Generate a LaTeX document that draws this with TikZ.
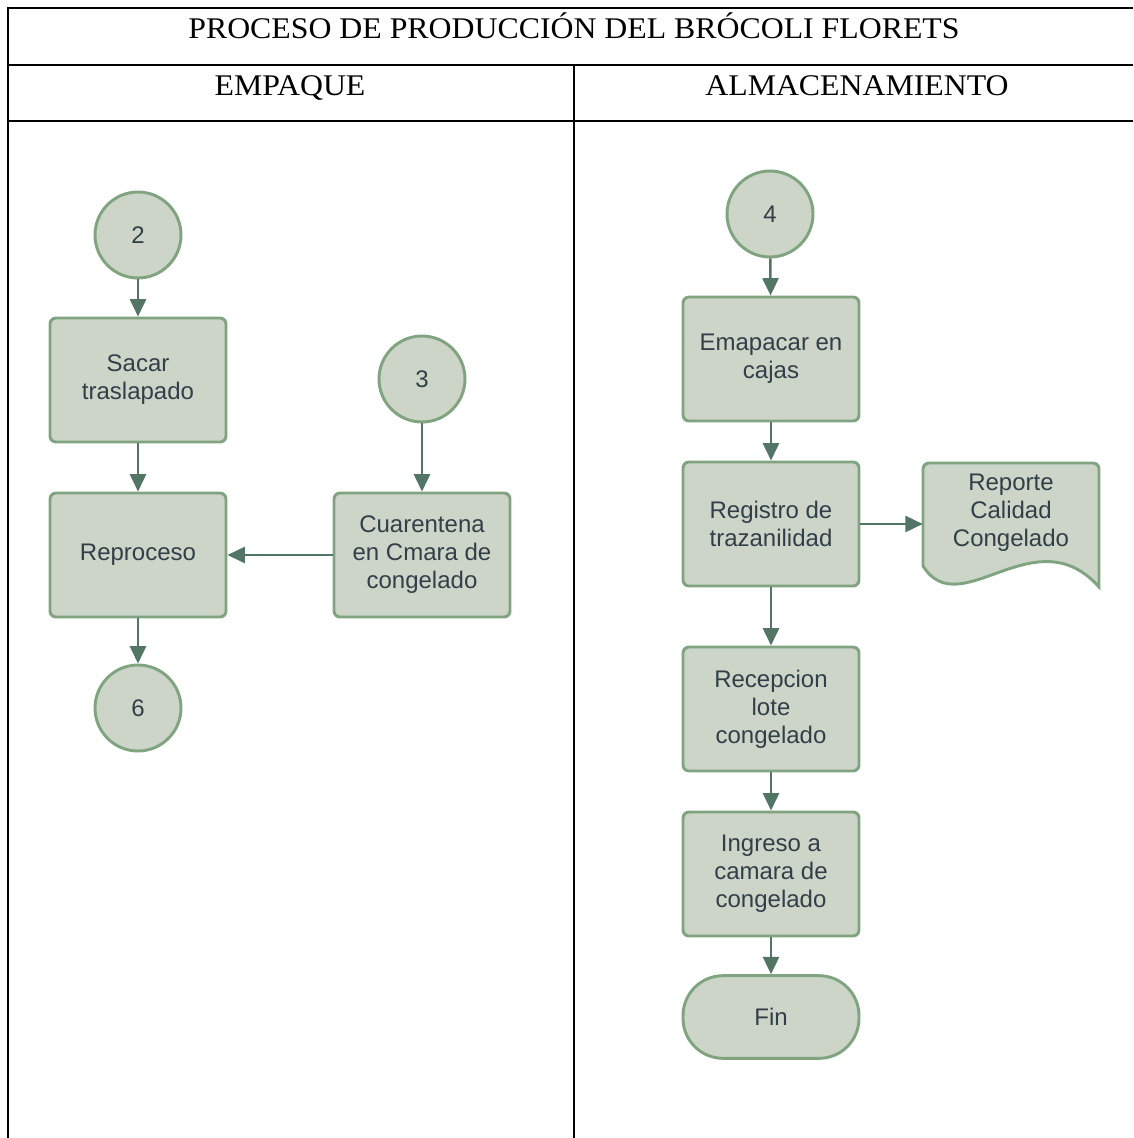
\documentclass[tikz,border=0pt]{standalone}
\usepackage{fontspec}
\setmainfont{Liberation Serif}
\newfontfamily\headfont[FakeStretch=1.06]{Liberation Serif}
\newfontfamily\nodefont{Liberation Sans}
\usetikzlibrary{arrows.meta,calc}
\definecolor{boxfill}{RGB}{204,213,200}
\definecolor{boxline}{RGB}{128,163,128}
\definecolor{arrowcol}{RGB}{82,117,102}
\definecolor{txtcol}{RGB}{51,63,72}
\tikzset{
  tabline/.style={line width=1.5pt, black},
  head/.style={font=\headfont\fontsize{22.5}{27}\selectfont, inner sep=0pt, anchor=base},
  proc/.style={rectangle, rounded corners=4.5pt, draw=boxline, fill=boxfill, line width=2.2pt,
    minimum width=132pt, minimum height=93pt, align=center, text=txtcol,
    font=\nodefont\fontsize{18}{21}\selectfont, inner sep=2pt},
  conn/.style={circle, draw=boxline, fill=boxfill, line width=2.2pt, minimum size=64.5pt,
    inner sep=0pt, text=txtcol, font=\nodefont\fontsize{18}{21}\selectfont},
  term/.style={rectangle, rounded corners=30pt, draw=boxline, fill=boxfill, line width=2.2pt,
    minimum width=132pt, minimum height=62pt, text=txtcol, font=\nodefont\fontsize{18}{21}\selectfont},
  docbox/.style={rectangle, draw=none, minimum width=132pt, minimum height=93pt, inner sep=0pt},
  doctxt/.style={align=center, text=txtcol, font=\nodefont\fontsize{18}{21}\selectfont, inner sep=0pt},
  flow/.style={draw=arrowcol, line width=1.9pt, -{Triangle[length=13pt,width=12pt]}},
}
\begin{document}
\begin{tikzpicture}[x=0.75pt,y=-0.75pt]
\useasboundingbox (0,0) rectangle (1133,1138);
% table
\draw[tabline] (8,1138) -- (8,8) -- (1133,8);
\draw[tabline] (8,65) -- (1133,65);
\draw[tabline] (8,121) -- (1133,121);
\draw[tabline] (574,65) -- (574,1138);
\node[head] (title) at (574,39) {PROCESO DE PRODUCCIÓN DEL BRÓCOLI FLORETS};
\node[head] (h1) at (290,95) {EMPAQUE};
\node[head] (h2) at (857,95) {ALMACENAMIENTO};
% left column
\node[conn] (c2) at (138,235) {2};
\node[proc] (sacar) at (138,380) {Sacar\\traslapado};
\node[proc] (repro) at (138,555) {Reproceso};
\node[conn] (c6) at (138,708) {6};
\node[conn] (c3) at (422,379) {3};
\node[proc] (cuar) at (422,555) {Cuarentena\\en Cmara de\\congelado};
\draw[flow] (c2) -- (sacar);
\draw[flow] (sacar) -- (repro);
\draw[flow] (repro) -- (c6);
\draw[flow] (c3) -- (cuar);
\draw[flow] (cuar) -- (repro);
% right column
\node[conn] (c4) at (770,214) {4};
\node[proc] (emp) at (771,359) {Emapacar en\\cajas};
\node[proc] (reg) at (771,524) {Registro de\\trazanilidad};
\node[proc] (rec) at (771,709) {Recepcion\\lote\\congelado};
\node[proc] (ing) at (771,874) {Ingreso a\\camara de\\congelado};
\node[term] (fin) at (771,1017) {Fin};
\node[docbox] (rep) at (1011,524) {};
\draw[draw=boxline, fill=boxfill, line width=2.2pt]
  (923,566) [rounded corners=4.5pt] -- (923,463) -- (1099,463) [sharp corners] -- (1099,587)
  .. controls (1035,515) and (960,625) .. (923,566) -- cycle;
\node[doctxt] (reptxt) at (1011,513) {Reporte\\Calidad\\Congelado};
\draw[flow] (c4) -- (emp);
\draw[flow] (emp) -- (reg);
\draw[flow] (reg) -- (rec);
\draw[flow] (rec) -- (ing);
\draw[flow] (ing) -- (fin);
\draw[flow] (reg.east) -- (rep.west);
\end{tikzpicture}
\end{document}
